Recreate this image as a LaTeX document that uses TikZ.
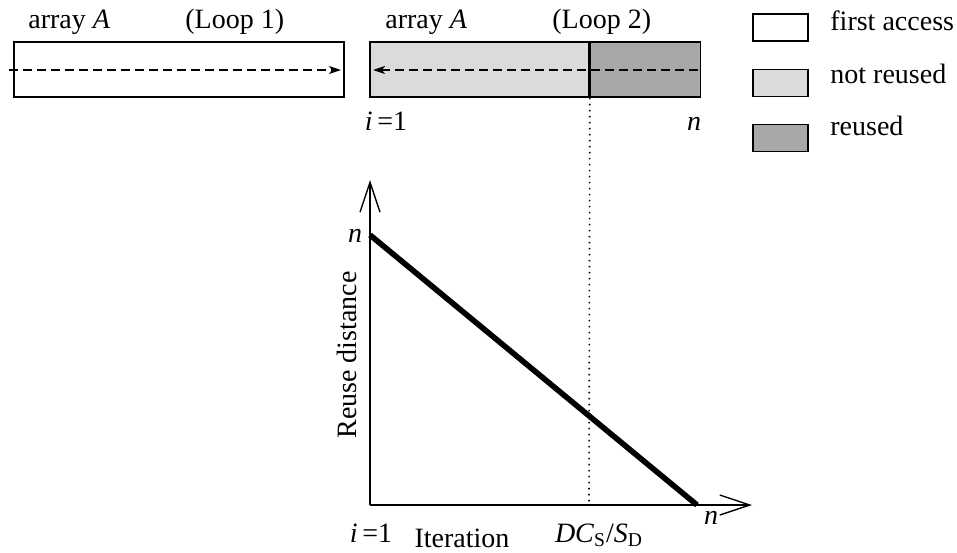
\documentclass[tikz,border=0pt]{standalone}
\usepackage{fontspec}
\setmainfont{Liberation Serif}
\usetikzlibrary{arrows.meta, positioning, calc}

\begin{document}
\begin{tikzpicture}[
    x=0.5pt, y=-0.5pt,
    font=\fontsize{14}{16}\selectfont,
    cell/.style={rectangle, draw=black, line width=0.8pt, inner sep=0pt, minimum height=27.5pt},
    firstcell/.style={cell, fill=white},
    coldcell/.style={cell, fill=black!14},
    hotcell/.style={cell, fill=black!34},
    keybox/.style={rectangle, draw=black, line width=0.8pt, inner sep=0pt, minimum width=27.5pt, minimum height=13.5pt},
    scan/.style={dash pattern=on 4.5pt off 2.5pt, line width=0.7pt, -{Stealth[length=6pt, width=4pt, inset=1.5pt]}},
    axis/.style={line width=0.7pt, -{Straight Barb[length=15pt, width=10pt]}},
    label/.style={inner sep=0pt, anchor=base}
]
\useasboundingbox (0,0) rectangle (957,552);

% ARRAY A, LOOP 1
\node[firstcell, minimum width=165pt] (loop1) at (179,69.5) {};
\node[label, anchor=base west] (arr1) at (28,28) {array \textit{A}};
\node[label, anchor=base west] (lp1) at (185,28) {(Loop 1)};
\coordinate (s1) at (9,70);
\coordinate (e1) at (341,70);
\draw[scan] (s1) -- (e1);

% ARRAY A, LOOP 2
\node[coldcell, minimum width=109.5pt] (cold) at (479.5,69.5) {};
\node[hotcell, minimum width=55pt, right=0pt of cold] (hot) {};
\node[label, anchor=base west] (arr2) at (385,28) {array \textit{A}};
\node[label, anchor=base west] (lp2) at (552,28) {(Loop 2)};
\coordinate (s2) at (698,70);
\coordinate (e2) at (373,70);
\draw[scan] (s2) -- (e2);
\node[label] (i1top) at (386,130) {\textit{i}\,=1};
\node[label] (ntop) at (694,130) {\textit{n}};

% LEGEND
\node[keybox, fill=white] (k1) at (780.5,27.5) {};
\node[keybox, fill=black!14] (k2) at (780.5,83) {};
\node[keybox, fill=black!34] (k3) at (780.5,138) {};
\node[label, anchor=base west] (t1) at (830,30) {first access};
\node[label, anchor=base west] (t2) at (830,83) {not reused};
\node[label, anchor=base west] (t3) at (830,135) {reused};

% REUSE DISTANCE PLOT
\coordinate (origin) at (370,505);
\coordinate (ytop) at (370,180);
\coordinate (xend) at (752,505);
\coordinate (rdtop) at (370,235);
\coordinate (rdend) at (697,505);
\coordinate (split) at (589,505);
\draw[axis] (origin) -- (ytop);
\draw[axis] (origin) -- (xend);
\draw[line width=2.8pt] (rdtop) -- (rdend);
\draw[dash pattern=on 0.8pt off 2.2pt, line width=0.8pt] (cold.south east) -- (split);

\node[label] (nleft) at (355,242) {\textit{n}};
\node[rotate=90, inner sep=0pt] (ylab) at (347,355) {Reuse distance};
\node[label] (i1bot) at (371,542) {\textit{i}\,=1};
\node[label] (xlab) at (462,547) {Iteration};
\node[label] (dcs) at (599,542) {\textit{DC}\textsubscript{S}/\textit{S}\textsubscript{D}};
\node[label] (nbot) at (711,524) {\textit{n}};

\end{tikzpicture}
\end{document}
